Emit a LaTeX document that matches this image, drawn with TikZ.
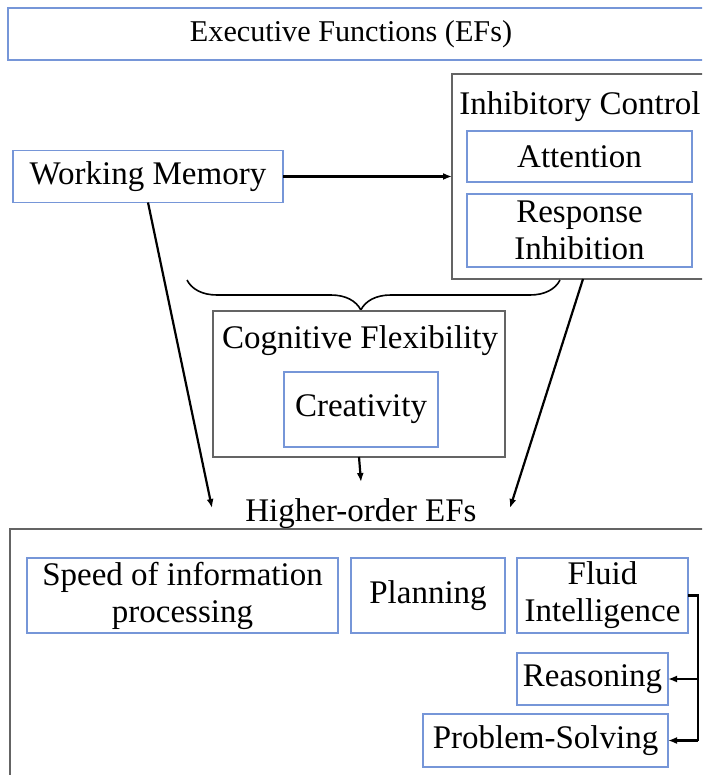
\documentclass[tikz,border=0pt]{standalone}
\usepackage{fontspec}
\setmainfont{Liberation Serif}
\usetikzlibrary{arrows.meta,decorations.pathreplacing}
\definecolor{boxblue}{RGB}{118,150,216}
\definecolor{boxgray}{RGB}{100,100,100}
\begin{document}
\begin{tikzpicture}[x=1pt,y=-1pt,
  every node/.style={font=\fontsize{33}{38}\selectfont, inner sep=0pt, outer sep=0pt},
  bluebox/.style={draw=boxblue, line width=1.5pt, align=center, minimum width=#1},
  graybox/.style={draw=boxgray, line width=1.6pt},
  arr/.style={line width=2.2pt, -{Latex[length=9pt,width=7pt]}},
  link/.style={line width=2.2pt}]
\useasboundingbox (0,0) rectangle (702,775);
\clip (0,0) rectangle (702,775);

% title bar
\node[bluebox=698pt, minimum height=52pt, font=\fontsize{30.2}{36}\selectfont] (title) at (357,34) {\hspace*{-12pt}Executive Functions (EFs)};

% inhibitory control group
\node[graybox, minimum width=262pt, minimum height=205pt] (ic) at (583,176.5) {};
\node[anchor=base] (iclabel) at (580,115) {Inhibitory Control};
\node[bluebox=225pt, minimum height=51pt] (att) at (579.5,156.5) {Attention};
\node[bluebox=225pt, minimum height=73pt] (ri) at (579.5,230.5) {Response\\[-1pt]Inhibition};

% working memory
\node[bluebox=270pt, minimum height=52pt] (wm) at (148,176.5) {Working Memory};

% brace gathering working memory and inhibitory control
\draw[line width=1.6pt, decorate, decoration={brace, amplitude=30pt, aspect=0.534}]
  (560,280) -- (187,280);

% cognitive flexibility group
\node[graybox, minimum width=292pt, minimum height=146pt] (cf) at (359,384) {};
\node[anchor=base] (cflabel) at (360,348) {Cognitive Flexibility};
\node[bluebox=154pt, minimum height=75pt] (cr) at (361,409.5) {Creativity};

% higher-order EFs
\node[anchor=base] (hoe) at (361,521) {Higher-order EFs};
\coordinate (wmEnd) at (212,508);
\coordinate (icEnd) at (510,508);
\coordinate (cfEnd) at (361,482);
\draw[arr] (wm.east) -- (wm.east -| ic.west);
\draw[arr] (wm.south) -- (wmEnd);
\draw[arr] (ic.south) -- (icEnd);
\draw[arr] (cf.south) -- (cfEnd);

\node[graybox, minimum width=708pt, minimum height=262pt] (hb) at (364,660) {};
\node[bluebox=311pt, minimum height=75pt] (speed) at (182.5,595.5) {Speed of information\\[-1pt]processing};
\node[bluebox=154pt, minimum height=75pt] (plan) at (428,595.5) {Planning};
\node[bluebox=171pt, minimum height=75pt] (fluid) at (602.5,595.5) {Fluid\\[-1pt]Intelligence};
\node[bluebox=151pt, minimum height=52pt] (reas) at (592.5,679) {Reasoning};
\node[bluebox=245pt, minimum height=53pt] (prob) at (545.5,740.5) {Problem-Solving};

% fluid intelligence branches
\coordinate (bus) at (698,595.5);
\draw[link] (fluid.east) -- (bus) -- (bus |- prob.east);
\draw[arr] (bus |- reas.east) -- (reas.east);
\draw[arr] (bus |- prob.east) -- (prob.east);
\end{tikzpicture}
\end{document}
